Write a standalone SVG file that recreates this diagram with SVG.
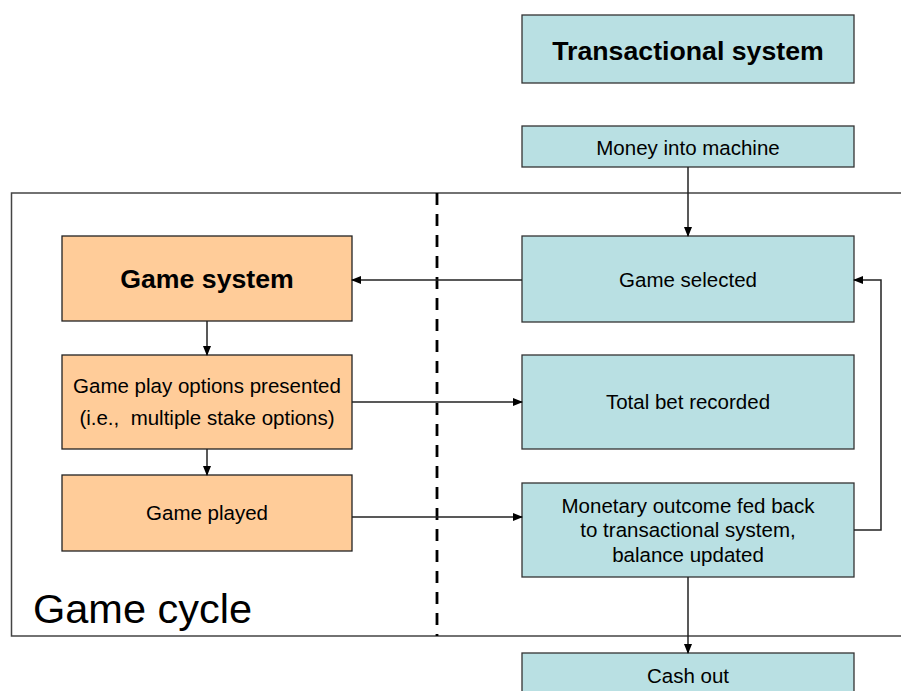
<svg xmlns="http://www.w3.org/2000/svg" width="901" height="691" viewBox="0 0 901 691">
<style>
.t{fill:#B9E0E3;stroke:#333;stroke-width:1.3}
.o{fill:#FFCC99;stroke:#222;stroke-width:1.3}
.lbl{font-family:"Liberation Sans",Arial,sans-serif;font-size:20.5px;fill:#000;text-anchor:middle}
.big{font-family:"Liberation Sans",Arial,sans-serif;font-size:26.7px;font-weight:bold;fill:#000;text-anchor:middle}
.c{fill:none;stroke:#222;stroke-width:1.5}
</style>
<defs>
<marker id="ah" markerUnits="userSpaceOnUse" markerWidth="10" markerHeight="8" refX="9" refY="4" orient="auto">
<path d="M0,0 L10,4 L0,8 z" fill="#000"/>
</marker>
</defs>
<rect width="901" height="691" fill="#fff"/>
<g id="game-cycle">
<path d="M901,193 H11.5 V636 H901" fill="none" stroke="#444" stroke-width="1.5"/>
<line x1="437" y1="193" x2="437" y2="636" stroke="#000" stroke-width="2.8" stroke-dasharray="12,9"/>
<text x="33" y="623" font-family="Liberation Sans,Arial,sans-serif" font-size="41.5" fill="#000">Game cycle</text>
</g>
<g id="transactional-system">
<rect class="t" x="522" y="15" width="332" height="68"/>
<text class="big" x="688" y="60">Transactional system</text>
</g>
<g id="money-into-machine">
<rect class="t" x="522" y="126" width="332" height="41"/>
<text class="lbl" x="688" y="155">Money into machine</text>
</g>
<g id="game-selected">
<rect class="t" x="522" y="236" width="332" height="86"/>
<text class="lbl" x="688" y="287">Game selected</text>
</g>
<g id="total-bet">
<rect class="t" x="522" y="355" width="332" height="94"/>
<text class="lbl" x="688" y="409">Total bet recorded</text>
</g>
<g id="monetary-outcome">
<rect class="t" x="522" y="483" width="332" height="94"/>
<text class="lbl" x="688" y="513">Monetary outcome fed back</text>
<text class="lbl" x="688" y="537">to transactional system,</text>
<text class="lbl" x="688" y="562">balance updated</text>
</g>
<g id="cash-out">
<rect class="t" x="522" y="653" width="332" height="60"/>
<text class="lbl" x="688" y="683">Cash out</text>
</g>
<g id="game-system">
<rect class="o" x="62" y="236" width="290" height="85"/>
<text class="big" x="207" y="288">Game system</text>
</g>
<g id="game-play-options">
<rect class="o" x="62" y="355" width="290" height="94"/>
<text class="lbl" x="207" y="393">Game play options presented</text>
<text class="lbl" x="207" y="425" xml:space="preserve">(i.e.,  multiple stake options)</text>
</g>
<g id="game-played">
<rect class="o" x="62" y="475" width="290" height="76"/>
<text class="lbl" x="207" y="520">Game played</text>
</g>
<g id="connectors">
<path class="c" d="M688,167 V236" marker-end="url(#ah)"/>
<path class="c" d="M522,280 H352" marker-end="url(#ah)"/>
<path class="c" d="M207,321 V355" marker-end="url(#ah)"/>
<path class="c" d="M207,449 V475" marker-end="url(#ah)"/>
<path class="c" d="M352,402 H522" marker-end="url(#ah)"/>
<path class="c" d="M352,517 H522" marker-end="url(#ah)"/>
<path class="c" d="M854,530 H881 V280 H854" marker-end="url(#ah)"/>
<path class="c" d="M688,577 V653" marker-end="url(#ah)"/>
</g>
</svg>
